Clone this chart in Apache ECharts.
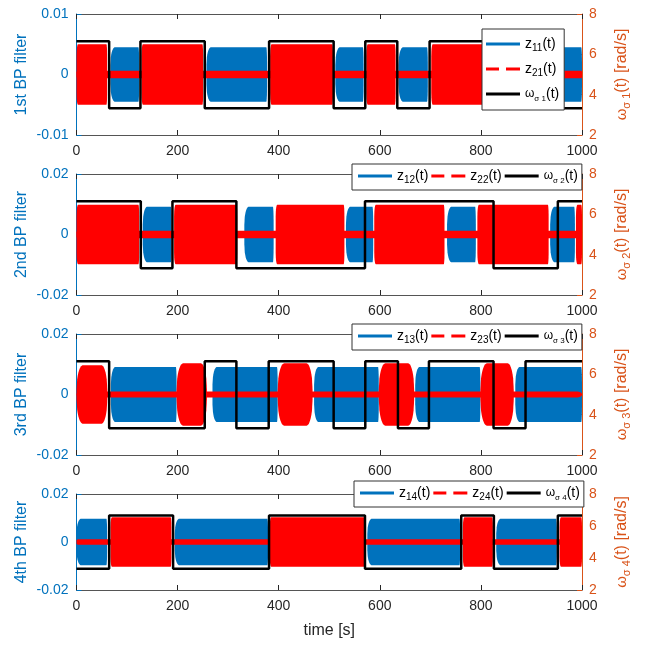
<!DOCTYPE html>
<html>
<head>
<meta charset="utf-8">
<script src="https://cdn.jsdelivr.net/npm/echarts@6/dist/echarts.min.js"></script>
<style>
  html, body { margin: 0; padding: 0; background: #fff; }
  #chart { width: 646px; height: 647px; }
</style>
</head>
<body>
<div id="chart"></div>
<script>
// ---- data -------------------------------------------------------------
const timeTicks = [0, 200, 400, 600, 800, 1000];
const omegaTicks = [2, 4, 6, 8];

// scheduling frequency of each band-pass filter: switch times [s] and levels [rad/s]
const omega1Switch = [0, 64.6, 126.5, 253.7, 381, 508.7, 571.3, 634.6, 698.5, 952.5];
const omega1Value  = [6.65, 3.33, 6.65, 3.33, 6.65, 3.33, 6.65, 3.33, 6.65, 3.33];
const omega2Switch = [0, 127.2, 189.8, 316.3, 570.7, 825, 952.2];
const omega2Value  = [6.65, 3.33, 6.65, 3.33, 6.65, 3.33, 6.65];
const omega3Switch = [0, 64.6, 253.7, 316.3, 380.2, 508.7, 571.3, 635.9, 697.2, 825, 888.3];
const omega3Value  = [6.65, 3.33, 6.65, 3.33, 6.65, 3.33, 6.65, 3.33, 6.65, 3.33, 6.65];
const omega4Switch = [0, 64.6, 191.1, 380.9, 570.7, 761.1, 825.7, 952.2];
const omega4Value  = [3.33, 6.65, 3.33, 6.65, 3.33, 6.65, 3.33, 6.65];

// oscillation envelopes of the filter outputs: [start s, end s, amplitude]
const z11Bursts = [[67, 124, 0.0045], [257, 377, 0.0045], [512, 568, 0.0045], [637, 695, 0.0045], [955, 1000, 0.0045]];
const z21Bursts = [[0, 1000, 0.0006], [0, 60.6, 0.0050], [128.5, 250.5, 0.0050], [383, 507.4, 0.0050], [573.3, 631.3, 0.0050], [701.8, 950, 0.0050]];
const z12Bursts = [[131, 188, 0.0092], [332, 390, 0.0092], [533, 587, 0.0092], [733, 790, 0.0092], [937, 986, 0.0092]];
const z22Bursts = [[0, 1000, 0.0012], [0, 124, 0.0098], [193, 318, 0.0098], [394, 530, 0.0098], [589, 728, 0.0098], [793, 934, 0.0098], [988, 1000, 0.0098]];
const z13Bursts = [[68, 198, 0.0091], [269, 398, 0.0091], [470, 598, 0.0091], [670, 799, 0.0091], [868, 1000, 0.0091]];
const z23Bursts = [[0, 1000, 0.0010], [0, 61, 0.0097], [198, 258, 0.0103], [398, 467, 0.0103], [598, 668, 0.0103], [799, 865, 0.0103]];
const z14Bursts = [[0, 60.6, 0.0097], [194.4, 379, 0.0097], [575.3, 759, 0.0097], [830.3, 950.2, 0.0097]];
const z24Bursts = [[0, 1000, 0.0011], [67.2, 187.8, 0.0103], [382.2, 570, 0.0103], [764.4, 823.7, 0.0103], [955.5, 1000, 0.0103]];

const panelLabels = ['1st BP filter', '2nd BP filter', '3rd BP filter', '4th BP filter'];
const panelRange = [0.01, 0.02, 0.02, 0.02];

// ---- styling ----------------------------------------------------------
const FONT = '"Liberation Sans", Arial, Helvetica, sans-serif';
const BLUE = '#0072BD', RED = '#FF0000', ORANGE = '#D95319', INK = '#262626', FRAME = '#555555';

// envelope corner shapes (rise/fall length in seconds, starting fraction)
const blueShape = { rise: 9, fall: 1.5, base: 0.35 };
const redShape = { rise: 3, fall: 1.5, base: 0.6 };
const lensShape = { rise: 13, fall: 12, base: 0.15 };

const layout = [
  { top: 14, height: 121, legend: { left: 482, top: 29, orient: 'vertical' } },
  { top: 174, height: 121, legend: { left: 352, top: 164, orient: 'horizontal' } },
  { top: 334, height: 121, legend: { left: 352, top: 324, orient: 'horizontal' } },
  { top: 494, height: 96, legend: { left: 354, top: 481, orient: 'horizontal' } }
];

const panels = [
  { sw: omega1Switch, val: omega1Value, blue: z11Bursts, red: z21Bursts, redShape: redShape, idx: 1 },
  { sw: omega2Switch, val: omega2Value, blue: z12Bursts, red: z22Bursts, redShape: redShape, idx: 2 },
  { sw: omega3Switch, val: omega3Value, blue: z13Bursts, red: z23Bursts, redShape: lensShape, idx: 3 },
  { sw: omega4Switch, val: omega4Value, blue: z14Bursts, red: z24Bursts, redShape: redShape, idx: 4 }
];

// filled symmetric band between +envelope and -envelope
function bandRenderer(shape, color) {
  return function (params, api) {
    const s = api.value(0), e = api.value(1), a = api.value(2);
    const half = (e - s) / 2;
    const rise = Math.min(shape.rise, half), fall = Math.min(shape.fall, half);
    const N = 10;
    const corner = u => shape.base + (1 - shape.base) * Math.sqrt(Math.max(0, 1 - (1 - u) * (1 - u)));
    const upper = [];
    for (let k = 0; k <= N; k++) { const u = k / N; upper.push([s + rise * u, a * corner(u)]); }
    for (let k = N; k >= 0; k--) { const u = k / N; upper.push([e - fall * u, a * corner(u)]); }
    const pts = upper.map(p => api.coord(p));
    for (let i = upper.length - 1; i >= 0; i--) pts.push(api.coord([upper[i][0], -upper[i][1]]));
    return { type: 'polygon', shape: { points: pts }, style: { fill: color } };
  };
}

const solidIcon = 'path://M0,0H34V3H0Z';
const dashIcon = 'path://M0,0H13V3H0Z M20,0H34V3H20Z';

const subRich = {
  m: { fontSize: 14, lineHeight: 18, color: '#000', fontFamily: FONT },
  w: { fontSize: 12, lineHeight: 18, color: '#000', fontFamily: FONT },
  s: { fontSize: 10, lineHeight: 9, verticalAlign: 'bottom', color: '#000', fontFamily: FONT },
  g: { fontSize: 8, lineHeight: 8, verticalAlign: 'bottom', color: '#000', fontFamily: FONT }
};

const grids = [], xAxes = [], yAxes = [], series = [], legends = [];

panels.forEach((p, i) => {
  const L = layout[i];
  grids.push({ left: 76.5, right: 64, top: L.top, height: L.height, outerBoundsMode: 'none', containLabel: false });

  const xCommon = {
    type: 'value', gridIndex: i, min: 0, max: 1000, interval: 200,
    axisLine: { show: true, onZero: false, lineStyle: { color: FRAME, width: 1 } },
    axisTick: { show: true, inside: true, length: 5, lineStyle: { color: INK } },
    splitLine: { show: false }
  };
  xAxes.push(Object.assign({}, xCommon, {
    position: 'bottom',
    axisLabel: { show: true, color: INK, fontSize: 14, fontFamily: FONT, margin: 9,
      customValues: timeTicks, formatter: v => String(v) },
    name: i === 3 ? 'time [s]' : '',
    nameLocation: 'middle', nameGap: 33, nameMoveOverlap: false,
    nameTextStyle: { color: INK, fontSize: 16, fontFamily: FONT }
  }));
  xAxes.push(Object.assign({}, xCommon, { position: 'top', axisLabel: { show: false } }));

  const r = panelRange[i];
  yAxes.push({
    type: 'value', gridIndex: i, position: 'left', min: -r, max: r, interval: r,
    axisLine: { show: true, onZero: false, lineStyle: { color: BLUE, width: 1 } },
    axisTick: { show: true, inside: true, length: 5, lineStyle: { color: BLUE } },
    axisLabel: { color: BLUE, fontSize: 14, fontFamily: FONT, margin: 8 },
    splitLine: { show: false },
    name: panelLabels[i], nameLocation: 'middle', nameRotate: 90, nameGap: 47, nameMoveOverlap: false,
    nameTextStyle: { color: BLUE, fontSize: 16, fontFamily: FONT }
  });
  yAxes.push({
    type: 'value', gridIndex: i, position: 'right', min: omegaTicks[0], max: omegaTicks[omegaTicks.length - 1], interval: 2,
    axisLine: { show: true, onZero: false, lineStyle: { color: ORANGE, width: 1 } },
    axisTick: { show: true, inside: true, length: 5, lineStyle: { color: ORANGE } },
    axisLabel: { color: ORANGE, fontSize: 14, fontFamily: FONT, margin: 7 },
    splitLine: { show: false },
    name: '{w|ω}{s|σ ' + p.idx + '}{m|(t) [rad/s]}',
    nameLocation: 'middle', nameRotate: 90, nameGap: 30, nameMoveOverlap: false,
    nameTextStyle: {
      color: ORANGE, fontSize: 16, fontFamily: FONT,
      rich: {
        w: { fontSize: 15, lineHeight: 20, color: ORANGE, fontFamily: FONT },
        m: { fontSize: 16, lineHeight: 20, color: ORANGE, fontFamily: FONT },
        s: { fontSize: 11, lineHeight: 10, verticalAlign: 'bottom', color: ORANGE, fontFamily: FONT }
      }
    }
  });

  const names = ['z1' + p.idx, 'z2' + p.idx, 'w' + p.idx];
  series.push({
    type: 'custom', name: names[0], xAxisIndex: 2 * i, yAxisIndex: 2 * i, z: 2,
    itemStyle: { color: BLUE }, data: p.blue, renderItem: bandRenderer(blueShape, BLUE), silent: true
  });
  series.push({
    type: 'custom', name: names[1], xAxisIndex: 2 * i, yAxisIndex: 2 * i, z: 3,
    itemStyle: { color: RED }, data: p.red, renderItem: bandRenderer(p.redShape, RED), silent: true
  });
  const stepData = p.sw.map((t, k) => [t, p.val[k]]);
  stepData.push([1000, p.val[p.val.length - 1]]);
  series.push({
    type: 'line', name: names[2], xAxisIndex: 2 * i, yAxisIndex: 2 * i + 1, z: 4,
    step: 'end', showSymbol: false, symbol: 'none', data: stepData,
    lineStyle: { color: '#000', width: 2.5 }, itemStyle: { color: '#000' }, silent: true
  });

  const vertical = L.legend.orient === 'vertical';
  legends.push({
    left: L.legend.left, top: L.legend.top, orient: L.legend.orient, z: 10,
    backgroundColor: '#fff', borderColor: '#333', borderWidth: 1, borderRadius: 0,
    padding: vertical ? [8, 5, 7, 4] : [5, 4, 5, 6],
    itemGap: vertical ? 9 : 3,
    itemWidth: 34, itemHeight: 3, symbolKeepAspect: false, selectedMode: false,
    data: [
      { name: names[0], icon: solidIcon, itemStyle: { color: BLUE, borderWidth: 0 } },
      { name: names[1], icon: dashIcon, itemStyle: { color: RED, borderWidth: 0 } },
      { name: names[2], icon: solidIcon, itemStyle: { color: '#000', borderWidth: 0 } }
    ],
    formatter: function (name) {
      if (name.charAt(0) === 'z') return '{m|z}{s|' + name.slice(1) + '}{m|(t)}';
      return '{w|ω}{g|σ ' + name.slice(1) + '}{m|(t)}';
    },
    textStyle: { fontFamily: FONT, fontSize: 14, color: '#000', rich: subRich }
  });
});

const chart = echarts.init(document.getElementById('chart'), null, { renderer: 'canvas' });
chart.setOption({
  backgroundColor: '#fff',
  animation: false,
  textStyle: { fontFamily: FONT },
  grid: grids,
  xAxis: xAxes,
  yAxis: yAxes,
  legend: legends,
  series: series
});
</script>
</body>
</html>
